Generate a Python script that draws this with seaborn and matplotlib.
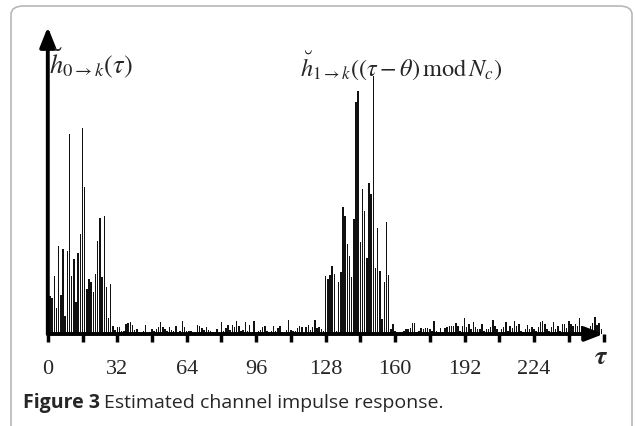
import numpy as np
import pandas as pd
import matplotlib
matplotlib.use("Agg")
import matplotlib.pyplot as plt
from matplotlib.patches import FancyBboxPatch
import seaborn as sns

# ---- data (amplitudes, arbitrary units) ----
cluster0 = [40, 38, 36, 58, 26, 88, 39, 85, 18, 83, 200, 58, 75, 32, 81, 100,
            206, 147, 45, 55, 52, 42, 60, 93, 116, 57, 118, 47, 16, 50, 8]          # tau 0..30
noise_a = [4, 7, 7, 3, 3, 10, 11, 12, 9, 4, 5, 2, 1, 3, 9, 1, 2, 5, 3, 5, 7, 12,
           7, 5, 3, 7, 4, 3, 8, 1, 3, 13, 7, 3, 3, 3, 1, 2, 9, 8, 6, 4, 7, 4]       # tau 31..74
noise_b = [3, 2, 2, 5, 1, 12, 3, 6, 9, 4, 9, 7, 13, 8, 3, 4, 12, 3, 9, 2, 13, 1, 3,
           4, 7, 8, 3, 2, 3, 8, 3, 6, 8, 2, 1, 4, 14, 4, 3, 3, 6, 8, 7, 1, 7]       # tau 75..119
noise_c = [9, 4, 7, 14, 6, 7, 5, 3]                                                  # tau 120..127
cluster1 = [58, 55, 59, 68, 60, 3, 52, 62, 127, 118, 90, 78, 57, 115, 232, 243,
            92, 145, 123, 76, 151, 140, 258, 66, 106, 63, 15, 52, 112, 59, 5, 10]   # tau 128..159
noise_d = [3, 1, 1, 2, 3, 5, 5, 6, 11, 11, 2, 3, 6, 5, 6, 6, 5, 3, 13, 3,
           2, 6, 2, 6, 7, 8, 8, 8, 11, 8, 3, 8, 16, 7, 10, 5, 12, 7, 5, 5,
           10, 3, 5, 5, 7, 14, 8, 5, 2, 5, 7, 12, 3, 8, 6, 13, 8, 10, 3, 2,
           5, 9, 5, 7, 5, 3, 7, 12, 13, 10, 5, 3, 7, 12, 5, 8, 3, 10, 10, 6,
           13, 10, 8, 10, 8, 16, 8, 5, 3, 5, 8, 11, 17, 9, 11, 5]                  # tau 160..255

amplitude = cluster0 + noise_a + noise_b + noise_c + cluster1 + noise_d
tau = list(range(len(amplitude)))
tick_positions = list(range(0, 257, 16))
tick_labels = ["0", "", "32", "", "64", "", "96", "", "128", "", "160", "", "192", "", "224", "", ""]

label0 = r"$\breve{h}_{0\rightarrow k}(\tau)$"
label1 = r"$\breve{h}_{1\rightarrow k}((\tau-\theta)\,\mathrm{mod}\,N_c)$"

df = pd.DataFrame({"tau": tau, "h": amplitude})

sns.set_theme(style="white")
plt.rcParams["mathtext.fontset"] = "stix"
plt.rcParams["font.family"] = ["Liberation Serif", "DejaVu Sans"]

W, H = 635, 427
fig = plt.figure(figsize=(W / 100, H / 100), dpi=100)
fig.patch.set_facecolor("white")

# rounded frame
frame = FancyBboxPatch((11 / W, -0.05), (621 / W), 1.05 - 7 / H,
                       boxstyle="round,pad=0,rounding_size=0.02",
                       transform=fig.transFigure, fill=False,
                       edgecolor="#b8b8b8", linewidth=1.2)
fig.patches.append(frame)

x0, x1 = 47.8, 603.5
yb, yt = 335, 28
ax = fig.add_axes([x0 / W, (H - yb) / H, (x1 - x0) / W, (yb - yt) / H])
ax.set_facecolor("none")

sns.barplot(data=df, x="tau", y="h", native_scale=True, width=0.68,
            color="#111111", saturation=1, errorbar=None, linewidth=0, ax=ax)

ax.set_xlim(0, 256)
ax.set_ylim(0, 307)
for s in ax.spines.values():
    s.set_visible(False)
ax.set_xlabel("")
ax.set_ylabel("")
ax.set_yticks([])
ax.set_xticks(tick_positions)
ax.set_xticklabels(tick_labels, fontsize=16, family="Liberation Serif")
ax.tick_params(axis="x", direction="out", length=6, width=2.5, color="black",
               pad=12, bottom=True)

# axes with arrows
ax.annotate("", xy=(1.0, 0), xycoords="axes fraction", xytext=(0, 0),
            arrowprops=dict(arrowstyle="-|>,head_length=0.9,head_width=0.35",
                            lw=2.8, color="black", shrinkA=0, shrinkB=0),
            annotation_clip=False)
ax.annotate("", xy=(0, 1.0), xycoords="axes fraction", xytext=(0, 0),
            arrowprops=dict(arrowstyle="-|>,head_length=1.0,head_width=0.4",
                            lw=2.8, color="black", shrinkA=0, shrinkB=0),
            annotation_clip=False)

fig.text(601 / W, 1 - 358 / H, r"$\boldsymbol{\tau}$", fontsize=19, ha="center", va="center")
fig.text(49 / W, 1 - 63 / H, label0, fontsize=19, ha="left", va="center")
fig.text(300 / W, 1 - 66 / H, label1, fontsize=17.5, ha="left", va="center")

t1 = fig.text(23 / W, 1 - 403 / H, "Figure 3", fontsize=14, fontweight="bold",
              family="Open Sans", ha="left", va="center")
fig.canvas.draw()
bb = t1.get_window_extent()
fig.text(bb.x1 / W + 4 / W, 1 - 403 / H, "Estimated channel impulse response.",
         fontsize=14, family="Open Sans", ha="left", va="center")

fig.savefig("out.png", dpi=100)
